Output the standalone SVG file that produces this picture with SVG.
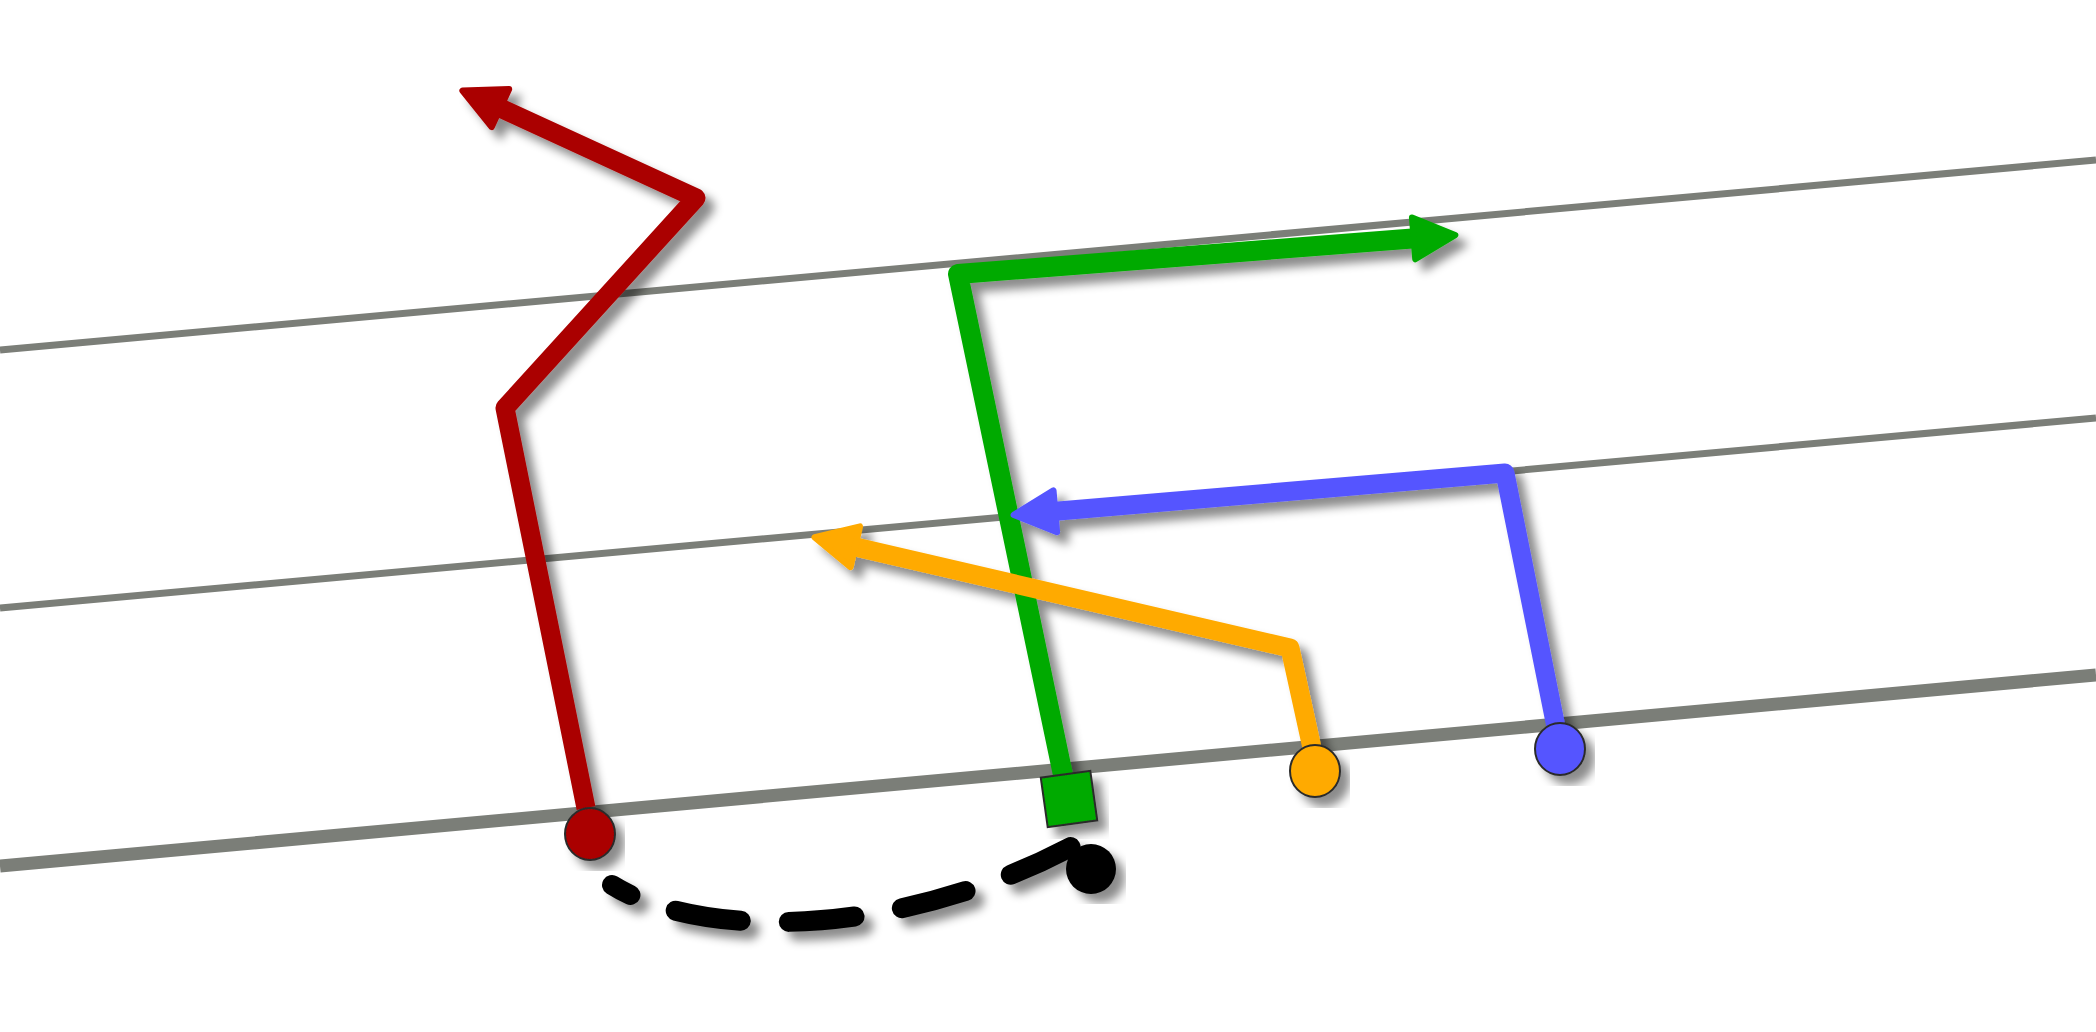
<svg xmlns="http://www.w3.org/2000/svg" width="2096" height="1032" viewBox="0 0 2096 1032">
<style>
.yard{stroke:#7b7e78;fill:none;stroke-linecap:butt}
.route{fill:none;stroke-linejoin:round;stroke-linecap:butt}
.node{stroke:#2b2b2b;stroke-width:2}
</style>
<defs>
<filter id="sh" x="-20%" y="-20%" width="140%" height="140%">
<feDropShadow dx="9" dy="9" stdDeviation="5" flood-color="#000" flood-opacity="0.45"/>
</filter>
<marker id="aR" viewBox="-4 -4 48 48" markerWidth="50" markerHeight="50" markerUnits="userSpaceOnUse" refX="8" refY="20" orient="auto">
<path d="M0,0 L40,20 L0,40 Z" fill="#aa0000" stroke="#aa0000" stroke-width="6" stroke-linejoin="round"/>
</marker>
<marker id="aG" viewBox="-4 -4 48 48" markerWidth="50" markerHeight="50" markerUnits="userSpaceOnUse" refX="8" refY="20" orient="auto">
<path d="M0,0 L40,20 L0,40 Z" fill="#00aa00" stroke="#00aa00" stroke-width="6" stroke-linejoin="round"/>
</marker>
<marker id="aB" viewBox="-4 -4 48 48" markerWidth="50" markerHeight="50" markerUnits="userSpaceOnUse" refX="8" refY="20" orient="auto">
<path d="M0,0 L40,20 L0,40 Z" fill="#5555ff" stroke="#5555ff" stroke-width="6" stroke-linejoin="round"/>
</marker>
<marker id="aO" viewBox="-4 -4 48 48" markerWidth="50" markerHeight="50" markerUnits="userSpaceOnUse" refX="8" refY="20" orient="auto">
<path d="M0,0 L40,20 L0,40 Z" fill="#ffaa00" stroke="#ffaa00" stroke-width="6" stroke-linejoin="round"/>
</marker>
</defs>
<rect width="2096" height="1032" fill="#ffffff"/>
<g id="yardlines">
<line class="yard" x1="0" y1="350" x2="2096" y2="160" stroke-width="7"/>
<line class="yard" x1="0" y1="608" x2="2096" y2="418" stroke-width="7"/>
<line class="yard" x1="0" y1="866" x2="2096" y2="675" stroke-width="13"/>
</g>
<g id="connectors" filter="url(#sh)">
<path class="route" d="M586,808 L505,408 L696,198 L492.8,104.6" stroke="#aa0000" stroke-width="19" marker-end="url(#aR)"/>
<path class="route" d="M1063,775 L958,274 L1422,237.7" stroke="#00aa00" stroke-width="20" marker-end="url(#aG)"/>
<path class="route" d="M1556,727 L1505,473 L1046.9,512" stroke="#5555ff" stroke-width="19" marker-end="url(#aB)"/>
<path class="route" d="M1312,748 L1290,648 L847.1,544.9" stroke="#ffaa00" stroke-width="19" marker-end="url(#aO)"/>
<path d="M612,885 C700,940 900,940 1080,842" fill="none" stroke="#000" stroke-width="20" stroke-linecap="round" stroke-dasharray="66 48" stroke-dashoffset="45"/>
</g>
<g id="node-red" filter="url(#sh)">
<ellipse class="node" cx="590" cy="834" rx="25" ry="26" fill="#aa0000"/>
</g>
<g id="node-green" filter="url(#sh)">
<rect class="node" x="-25" y="-25" width="50" height="50" fill="#00aa00" transform="translate(1069,799) rotate(-8)"/>
</g>
<g id="node-orange" filter="url(#sh)">
<ellipse class="node" cx="1315" cy="771" rx="25" ry="26" fill="#ffaa00"/>
</g>
<g id="node-blue" filter="url(#sh)">
<ellipse class="node" cx="1560" cy="749" rx="25" ry="26" fill="#5555ff"/>
</g>
<g id="node-black" filter="url(#sh)">
<circle cx="1091" cy="869" r="25" fill="#000"/>
</g>
</svg>
